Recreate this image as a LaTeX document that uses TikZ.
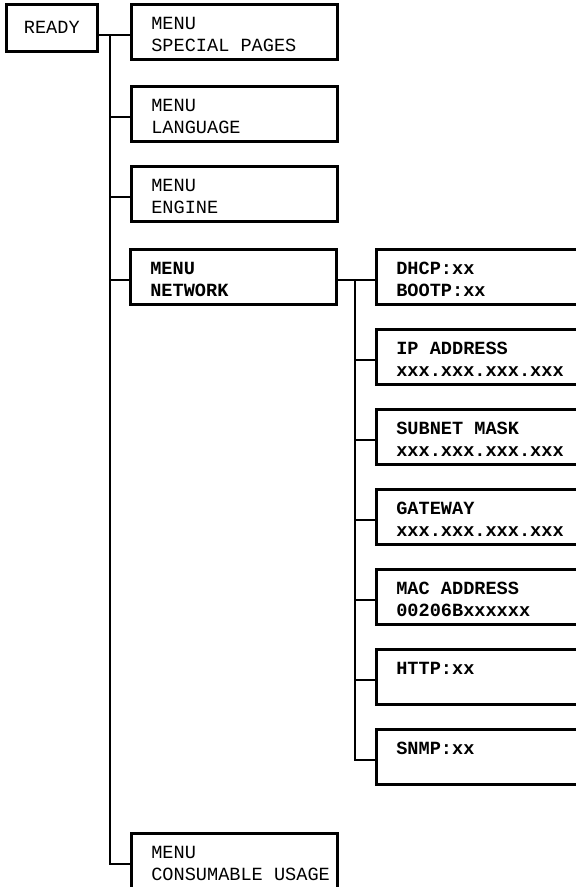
\documentclass[tikz,border=0pt]{standalone}
\usepackage{fontspec}
\setmonofont{Liberation Mono}
\newcommand\menufont{\ttfamily\fontsize{18.6}{22}\selectfont}
\begin{document}
\begin{tikzpicture}[x=1pt,y=-1pt,
        menubox/.style={
            draw,
            line width=\boxborderwidth,
            anchor=north west,
            inner xsep=0pt,
            inner ysep=0pt,
            text width=\menuwidth,
            minimum height=\boxheight,
            align=left,
            execute at begin node={\leftskip=20pt\spaceskip=0.6em\relax\rule{0pt}{17pt}},
            font=\menufont
        },
        netbox/.style={
            menubox,
            text width=\netwidth,
            font=\menufont\bfseries
        },
        link/.style={line width=2.2pt}]
        % Define box properties
        \def\menuwidth{206pt}  % Width of the menu boxes
        \def\netwidth{220pt}   % Width of the network boxes (cut by the page)
        \def\boxheight{55pt}
        \def\boxborderwidth{2.6pt}
        \def\drop{-3pt}        % Connectors sit a little below the box middle

        \clip (0,0) rectangle (576,887);

        % Top level
        \node[draw, line width=\boxborderwidth, anchor=north west,
            minimum width=91pt, minimum height=47pt, font=\menufont] (ready) at (5,3) {READY};

        % Menus
        \node[menubox] (special) at (130,3) {MENU\\SPECIAL PAGES};
        \node[menubox] (language) at (130,85) {MENU\\LANGUAGE};
        \node[menubox] (engine) at (130,165) {MENU\\ENGINE};
        \node[menubox, font=\menufont\bfseries] (network) at (129,248) {MENU\\NETWORK};
        \node[menubox] (consumable) at (130,832) {MENU\\CONSUMABLE USAGE};

        % Network settings
        \node[netbox] (dhcp) at (375,248) {DHCP:xx\\BOOTP:xx};
        \node[netbox] (ipaddr) at (375,328) {IP ADDRESS\\xxx.xxx.xxx.xxx};
        \node[netbox] (subnet) at (375,408) {SUBNET MASK\\xxx.xxx.xxx.xxx};
        \node[netbox] (gateway) at (375,488) {GATEWAY\\xxx.xxx.xxx.xxx};
        \node[netbox] (macaddr) at (375,568) {MAC ADDRESS\\00206Bxxxxxx};
        \node[netbox] (http) at (375,648) {HTTP:xx\\\mbox{}};
        \node[netbox] (snmp) at (375,728) {SNMP:xx\\\mbox{}};

        % Trunks
        \coordinate (trunk) at (110,0);
        \coordinate (subtrunk) at (355,0);

        % Connectors
        \draw[link] ([yshift=\drop]ready.east |- special.west) -- ([yshift=\drop]special.west);
        \draw[link] ([yshift=\drop]trunk |- special.west) -- ([yshift=\drop]trunk |- consumable.west)
            -- ([yshift=\drop]consumable.west);
        \foreach \n in {language,engine,network}
            \draw[link] ([yshift=\drop]trunk |- \n.west) -- ([yshift=\drop]\n.west);
        \draw[link] ([yshift=\drop]network.east) -- ([yshift=\drop]dhcp.west);
        \draw[link] ([yshift=\drop]subtrunk |- dhcp.west) -- ([yshift=\drop]subtrunk |- snmp.west)
            -- ([yshift=\drop]snmp.west);
        \foreach \n in {ipaddr,subnet,gateway,macaddr,http}
            \draw[link] ([yshift=\drop]subtrunk |- \n.west) -- ([yshift=\drop]\n.west);
    \end{tikzpicture}
\end{document}
